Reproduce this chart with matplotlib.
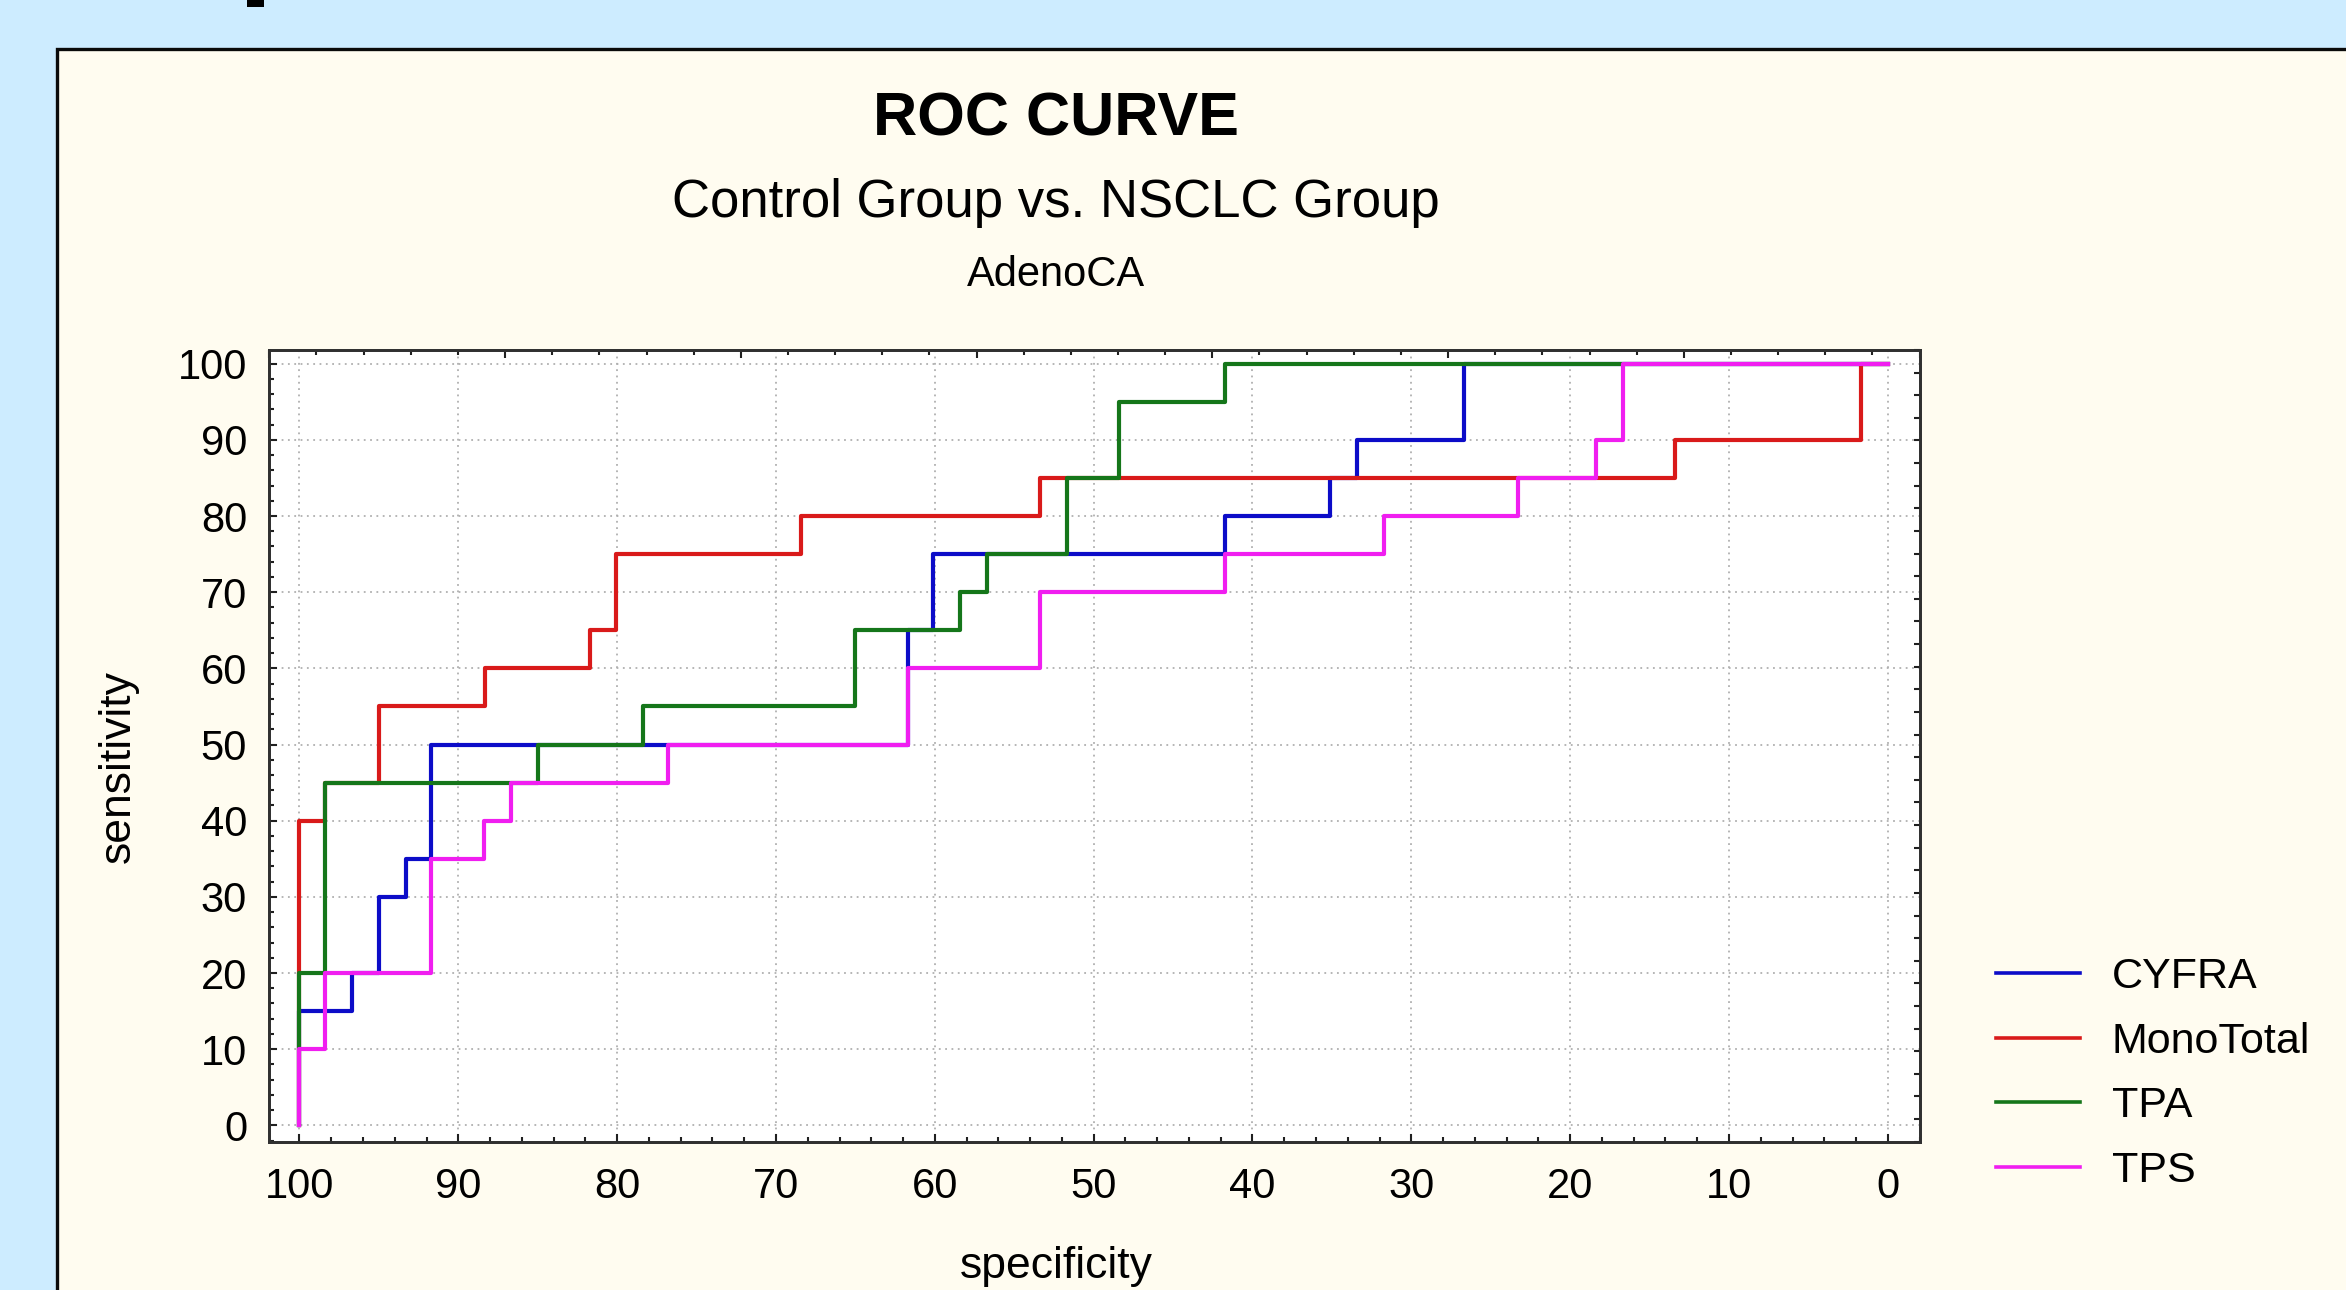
import matplotlib
matplotlib.use("Agg")
import matplotlib.pyplot as plt
from matplotlib.patches import Rectangle
from matplotlib.ticker import MultipleLocator, NullFormatter

plt.rcParams['font.family'] = ['Liberation Sans', 'DejaVu Sans']

# ROC step points (specificity %, sensitivity %)
cyfra_spec = [100, 100, 96.7, 95.0, 93.3, 91.7, 61.7, 60.1, 41.7, 35.1, 33.4, 26.7, 0]
cyfra_sens = [0, 15, 20, 30, 35, 50, 65, 75, 80, 85, 90, 100, 100]

mono_spec = [100, 100, 98.4, 95.0, 88.3, 81.7, 80.1, 68.4, 53.4, 13.4, 1.7, 0]
mono_sens = [0, 40, 45, 55, 60, 65, 75, 80, 85, 90, 100, 100]

tpa_spec = [100, 100, 98.4, 85.0, 78.4, 65.0, 58.4, 56.7, 51.7, 48.4, 41.7, 0]
tpa_sens = [0, 20, 45, 50, 55, 65, 70, 75, 85, 95, 100, 100]

tps_spec = [100, 100, 98.4, 91.7, 88.4, 86.7, 76.8, 61.7, 53.4, 41.7, 31.7, 23.3, 18.4, 16.7, 0]
tps_sens = [0, 10, 20, 35, 40, 45, 50, 60, 70, 75, 80, 85, 90, 100, 100]

names = ['CYFRA', 'MonoTotal', 'TPA', 'TPS']
colors = ['#0c0cc8', '#d91a1a', '#15761a', '#f01ef0']
series = [(cyfra_spec, cyfra_sens), (mono_spec, mono_sens),
          (tpa_spec, tpa_sens), (tps_spec, tps_sens)]

W, H = 2346, 1290
fig = plt.figure(figsize=(W / 100, H / 100), dpi=100, facecolor='#cdecff')

# cream panel with black border (runs off the right and bottom edges)
fig.add_artist(Rectangle((57 / W, -0.02), 1.1, 1 - 49 / H + 0.02,
                         transform=fig.transFigure, facecolor='#fffcf0',
                         edgecolor='#0a0a0a', linewidth=2.4, zorder=-5))
# fragment of a letter peeking in at the top
fig.add_artist(Rectangle((247 / W, 1 - 7 / H), 17 / W, 7 / H,
                         transform=fig.transFigure, facecolor='black',
                         edgecolor='none', zorder=-4))

ax = fig.add_axes([269.3 / W, 1 - 1141.7 / H, 1650.3 / W, 791.7 / H])
ax.set_facecolor('white')

for (sx, sy), name, c in zip(series, names, colors):
    ax.step(sx, sy, where='post', color=c, linewidth=3.0, label=name)

ax.set_xlim(101.9, -2.0)
ax.set_ylim(-2.15, 101.8)
ax.xaxis.set_major_locator(MultipleLocator(10))
ax.xaxis.set_minor_locator(MultipleLocator(2))
ax.yaxis.set_major_locator(MultipleLocator(10))
ax.yaxis.set_minor_locator(MultipleLocator(2))
ax.grid(True, which='major', linestyle=(0, (1, 2.5)), color='#b0b0b0', linewidth=1.3)

ax.tick_params(which='both', direction='in', top=False, right=False,
               width=1.5, color='#202020')
ax.tick_params(which='major', length=6)
ax.tick_params(which='minor', length=3.5)
ax.tick_params(axis='x', which='major', labelsize=30, pad=18)
ax.tick_params(axis='y', which='major', labelsize=30, pad=16)
for s in ax.spines.values():
    s.set_color('#303030')
    s.set_linewidth(1.8)

# opposite-side ticks on their own scales
axt = ax.twiny()
axt.set_xlim(0, 35)
axt.xaxis.set_major_locator(MultipleLocator(5))
axt.xaxis.set_minor_locator(MultipleLocator(1))
axt.xaxis.set_major_formatter(NullFormatter())
axt.tick_params(which='both', direction='in', width=1.5, color='#202020')
axt.tick_params(which='major', length=6)
axt.tick_params(which='minor', length=3.5)

axr = ax.twinx()
axr.set_ylim(0, 35)
axr.yaxis.set_major_locator(MultipleLocator(1))
axr.yaxis.set_major_formatter(NullFormatter())
axr.tick_params(which='both', direction='in', width=1.5, length=4, color='#202020')
for a in (axt, axr):
    for s in a.spines.values():
        s.set_color('#303030')
        s.set_linewidth(1.8)

# titles and axis labels
cx = 1056 / W
fig.text(cx, 1 - 136 / H, 'ROC CURVE', ha='center', va='baseline',
         fontsize=44, fontweight='bold')
fig.text(cx, 1 - 216.7 / H, 'Control Group vs. NSCLC Group', ha='center',
         va='baseline', fontsize=38)
fig.text(cx, 1 - 286 / H, 'AdenoCA', ha='center', va='baseline', fontsize=30)
fig.text(cx, 1 - 1278 / H, 'specificity', ha='center', va='baseline', fontsize=32)
fig.text(118 / W, 1 - 767 / H, 'sensitivity', ha='center', va='center',
         rotation=90, fontsize=32)

handles, labels = ax.get_legend_handles_labels()
fig.legend(handles, labels, loc='center left',
           bbox_to_anchor=(1996 / W, 1 - 1074 / H), frameon=False,
           fontsize=31, handlelength=1.95, handletextpad=0.74,
           labelspacing=0.57, borderpad=0, borderaxespad=0)
for line in fig.legends[0].get_lines():
    line.set_linewidth(2.6)

fig.savefig('out.png', dpi=100, facecolor=fig.get_facecolor())
